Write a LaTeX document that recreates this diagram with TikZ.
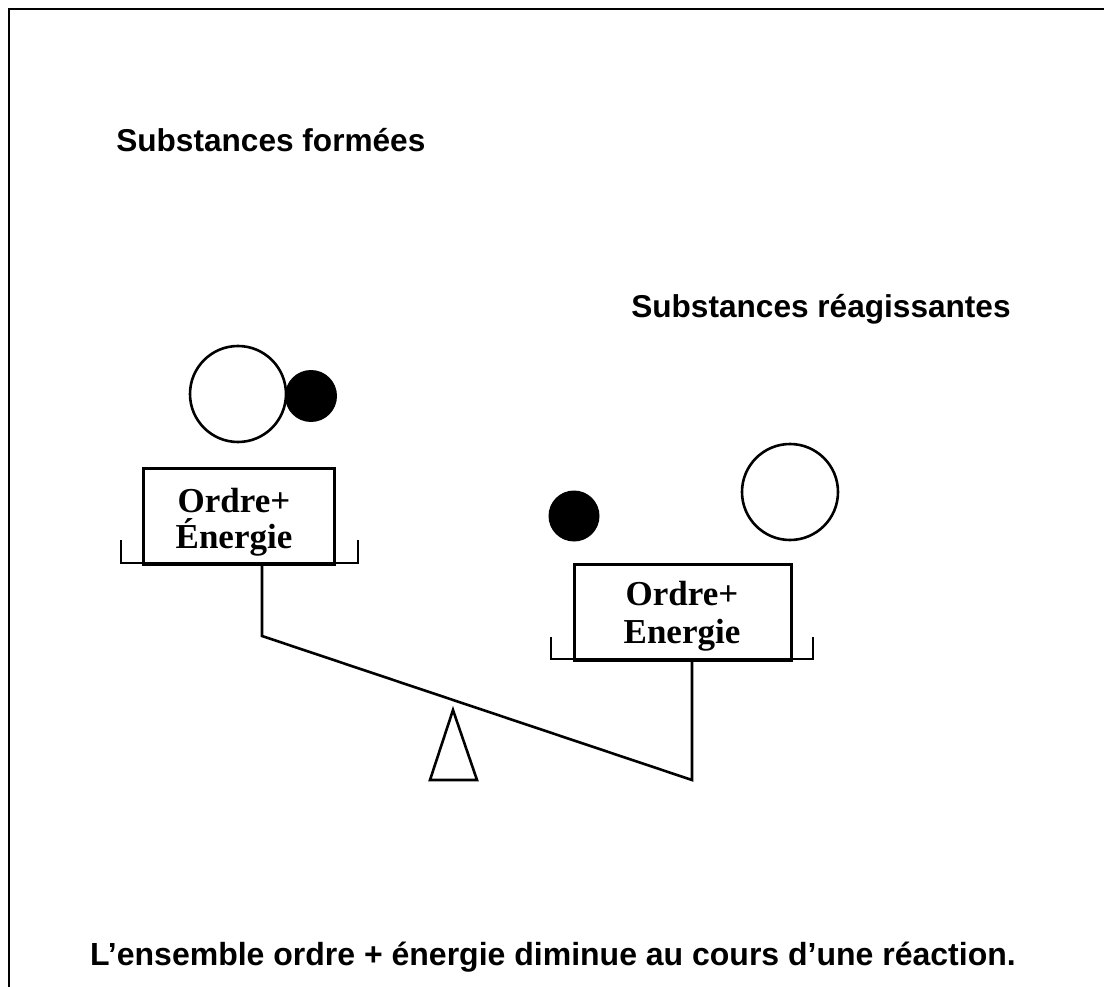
\documentclass[tikz,border=0pt]{standalone}
\usepackage{fontspec}
\setmainfont{Liberation Serif}
\newfontfamily\arialf{Liberation Sans}
\begin{document}
\begin{tikzpicture}[x=1pt,y=-1pt, line width=2.6pt, line join=miter,
  heading/.style={font=\arialf\bfseries\fontsize{31.6}{36}\selectfont, inner sep=0pt},
  foottext/.style={font=\arialf\bfseries\fontsize{32}{36}\selectfont, inner sep=0pt},
  boxtext/.style={font=\bfseries\fontsize{35}{38}\selectfont, inner sep=0pt},
  whiteball/.style={circle, draw, fill=white, line width=2.6pt, inner sep=0pt},
  blackball/.style={circle, fill=black, inner sep=0pt},
  panbox/.style={draw, rectangle, inner sep=0pt, anchor=north west},
]
\useasboundingbox (0,0) rectangle (1104,987);
\fill[white] (0,0) rectangle (1104,987);
% frame
\coordinate (tl) at (9,9);
\coordinate (tr) at (1104,9);
\coordinate (bl) at (9,987);
\draw (tr) -- (tl) -- (bl);
% headings
\node[heading, anchor=base west] (hf) at (115,152) {Substances formées};
\node[heading, anchor=base west] (hr) at (630,317) {Substances réagissantes};
\node[foottext, anchor=base] (foot) at (553,965) {L’ensemble ordre + énergie diminue au cours d’une réaction.};
% left side (formed substances)
\node[blackball, minimum size=52] (lb) at (311,396) {};
\node[whiteball, minimum size=96] (lw) at (238,394) {};
\node[panbox, minimum width=191, minimum height=96] (lbox) at (142,467) {};
\node[boxtext, anchor=base] (lt1) at (234,512) {Ordre+};
\node[boxtext, anchor=base] (lt2) at (234,548) {Énergie};
\coordinate (lpa) at (121,540);
\coordinate (lpb) at (121,563);
\coordinate (lpc) at (358,563);
\coordinate (lpd) at (358,540);
\draw (lpa) -- (lpb) -- (lpc) -- (lpd);
\coordinate (ls) at (262,563);
\coordinate (lend) at (262,636);
% right side (reacting substances)
\node[blackball, minimum size=51] (rb) at (574,516) {};
\node[whiteball, minimum size=96] (rw) at (790,492) {};
\node[panbox, minimum width=217, minimum height=96] (rbox) at (573,563) {};
\node[boxtext, anchor=base] (rt1) at (682,605) {Ordre+};
\node[boxtext, anchor=base] (rt2) at (682,643) {Energie};
\coordinate (rpa) at (551,637);
\coordinate (rpb) at (551,659);
\coordinate (rpc) at (813,659);
\coordinate (rpd) at (813,637);
\draw (rpa) -- (rpb) -- (rpc) -- (rpd);
\coordinate (rs) at (692,659);
\coordinate (rend) at (692,780);
% beam and stems
\draw (ls) -- (lend) -- (rend) -- (rs);
% fulcrum
\coordinate (fa) at (453,710);
\coordinate (fb) at (430,780);
\coordinate (fc) at (477,780);
\draw (fa) -- (fb) -- (fc) -- cycle;
\end{tikzpicture}
\end{document}
